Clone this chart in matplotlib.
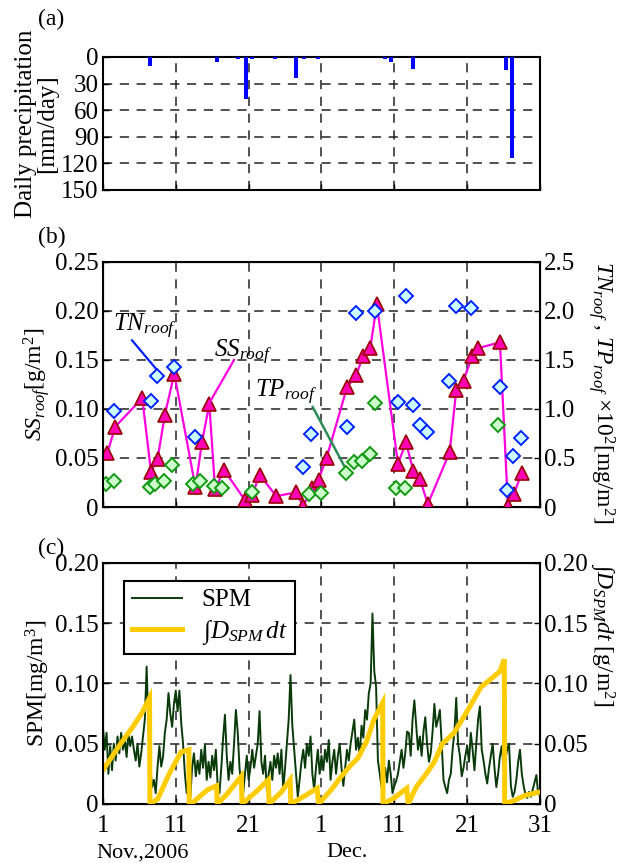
import numpy as np
import matplotlib
matplotlib.use("Agg")
import matplotlib.pyplot as plt

plt.rcParams['font.family'] = ['Liberation Serif', 'DejaVu Serif']
plt.rcParams['mathtext.fontset'] = 'custom'
plt.rcParams['mathtext.rm'] = 'Liberation Serif'
plt.rcParams['mathtext.it'] = 'Liberation Serif:italic'
plt.rcParams['mathtext.bf'] = 'Liberation Serif:bold'

# x axis = days since 1 Nov 2006
tick_days = [0, 10, 20, 30, 40, 50, 60]
tick_labels = ['1', '11', '21', '1', '11', '21', '31']

# (a) daily precipitation
prec_day = [6.5, 15.7, 18.5, 19.7, 20.5, 23.6, 26.5, 27.6, 29.5, 38.7, 39.6, 42.6, 55.3, 56.2]
prec_mm = [10, 5.6, 2, 47, 2, 2, 23.5, 2, 2, 2, 5.6, 14, 15, 114]

# (b) roof deposits
ss_day = [0.6, 1.7, 5.4, 6.6, 7.5, 8.5, 9.8, 12.7, 13.6, 14.6, 15.4, 16.6, 19.5, 20.5,
          21.5, 23.8, 26.5, 27.5, 28.7, 29.6, 30.7, 33.5, 34.8, 35.7, 36.7, 37.6,
          40.5, 41.6, 42.6, 43.5, 44.6, 47.6, 48.5, 49.5, 50.7, 51.5, 54.5, 55.6, 56.4, 57.5]
ss_val = [0.055, 0.082, 0.111, 0.036, 0.049, 0.094, 0.136, 0.020, 0.066, 0.105, 0.018, 0.038,
          0.007, 0.012, 0.033, 0.011, 0.015, 0.001, 0.019, 0.028, 0.050, 0.122, 0.135, 0.154,
          0.162, 0.207, 0.044, 0.066, 0.037, 0.029, 0.003, 0.056, 0.119, 0.129, 0.154, 0.162,
          0.168, 0.001, 0.013, 0.035]

tn_day = [1.5, 6.6, 7.4, 9.7, 12.7, 27.5, 28.6, 33.5, 34.7, 37.4, 40.5, 41.6, 42.6, 43.5,
          44.5, 47.5, 48.4, 50.5, 54.5, 55.5, 56.3, 57.4]
tn_val = [0.98, 1.08, 1.34, 1.43, 0.71, 0.41, 0.74, 0.82, 1.98, 2.00, 1.07, 2.15, 1.04, 0.84,
          0.77, 1.29, 2.05, 2.03, 1.22, 0.17, 0.52, 0.70]

tp_day = [0.4, 1.5, 6.5, 7.2, 8.4, 9.5, 12.4, 13.3, 15.3, 16.3, 20.5, 28.3, 29.9, 33.4,
          34.5, 35.5, 36.6, 37.3, 40.2, 41.4, 54.2]
tp_val = [0.23, 0.27, 0.20, 0.23, 0.27, 0.43, 0.23, 0.27, 0.21, 0.19, 0.15, 0.13, 0.14, 0.35,
          0.46, 0.47, 0.54, 1.06, 0.19, 0.19, 0.84]

# (c) SPM, every 6 hours from 1 Nov
spm_step = 0.25
spm = [0.064, 0.045, 0.059, 0.025, 0.048, 0.028, 0.050, 0.036, 0.056, 0.042, 0.059, 0.045,
       0.053, 0.039, 0.059, 0.048, 0.056, 0.045, 0.036, 0.050, 0.031, 0.042, 0.056, 0.070,
       0.114, 0.064, 0.031, 0.014, 0.020, 0.009, 0.031, 0.048, 0.031, 0.039, 0.059, 0.070,
       0.092, 0.075, 0.064, 0.083, 0.094, 0.077, 0.094, 0.067, 0.050, 0.025, 0.009, 0.023,
       0.006, 0.031, 0.042, 0.023, 0.036,
       0.025, 0.045, 0.030, 0.049, 0.020, 0.035, 0.022, 0.040, 0.028, 0.045, 0.015, 0.009,
       0.030, 0.055, 0.074, 0.040, 0.020, 0.035, 0.025, 0.050, 0.078, 0.060, 0.030, 0.015,
       0.009, 0.025, 0.040, 0.020, 0.030, 0.045, 0.030, 0.040, 0.050, 0.077, 0.035, 0.025,
       0.040, 0.012, 0.025, 0.035, 0.020, 0.040, 0.030, 0.042, 0.025, 0.045, 0.012, 0.030,
       0.050, 0.070, 0.107, 0.065, 0.045, 0.025, 0.006, 0.020, 0.035, 0.045, 0.030, 0.050,
       0.040, 0.056, 0.025, 0.012, 0.030, 0.045, 0.025, 0.040,
       0.028, 0.045, 0.035, 0.053, 0.020, 0.035, 0.045, 0.025, 0.040, 0.050, 0.030, 0.015,
       0.030, 0.045, 0.036, 0.050, 0.060, 0.070, 0.045, 0.055, 0.040, 0.065, 0.055, 0.078,
       0.070, 0.092, 0.100, 0.158, 0.110, 0.097, 0.036, 0.025, 0.014, 0.020, 0.030, 0.018,
       0.036, 0.025, 0.009, 0.015, 0.019, 0.025, 0.035, 0.045, 0.030, 0.042, 0.060, 0.059,
       0.040, 0.070, 0.086, 0.065, 0.045, 0.056, 0.040, 0.060, 0.072, 0.050, 0.035, 0.042,
       0.060, 0.083, 0.064, 0.070, 0.078, 0.050, 0.020, 0.014, 0.009, 0.020, 0.025, 0.045,
       0.060, 0.088, 0.050, 0.040, 0.023, 0.030, 0.040, 0.048, 0.035, 0.059, 0.045, 0.028,
       0.050, 0.070, 0.081, 0.045, 0.036, 0.025, 0.017, 0.030, 0.040, 0.050, 0.030, 0.014,
       0.025, 0.040, 0.048, 0.030, 0.038, 0.045, 0.050, 0.015, 0.006, 0.010, 0.020, 0.035,
       0.045, 0.025, 0.015, 0.008, 0.005, 0.010, 0.006, 0.012, 0.018, 0.024, 0.008, 0.010]
spm_day = np.arange(len(spm)) * spm_step

# cumulative dry deposition, resets on rain
dep_day = [0, 2.2, 4.1, 5.4, 6.4, 6.45, 7.5, 9.1, 10.7, 11.8, 11.85, 12.5, 14.4, 15.6, 15.7,
           17.0, 19.0, 19.1, 21.0, 22.7, 22.8, 24.5, 25.7, 25.8, 27.5, 29.4, 29.6, 30.2,
           31.5, 32.6, 34.0, 35.0, 36.2, 37.2, 38.4, 38.45, 40.0, 41.7, 41.9, 43.0, 44.5,
           45.5, 46.6, 48.2, 50.1, 51.9, 53.3, 54.5, 55.1, 55.15, 56.5, 57.9, 59.3, 60.0]
dep_val = [0.028, 0.048, 0.064, 0.076, 0.088, 0.0, 0.004, 0.025, 0.043, 0.045, 0.0, 0.002,
           0.012, 0.015, 0.0, 0.008, 0.023, 0.0, 0.010, 0.020, 0.0, 0.010, 0.020, 0.0, 0.006,
           0.013, 0.0, 0.004, 0.013, 0.022, 0.032, 0.038, 0.052, 0.070, 0.084, 0.0, 0.005,
           0.013, 0.0, 0.014, 0.026, 0.035, 0.050, 0.059, 0.078, 0.097, 0.104, 0.110, 0.120,
           0.0, 0.003, 0.007, 0.009, 0.010]

fs = 18
grid_kw = dict(color='#222222', linestyle=(0, (6, 5)), linewidth=1.1)

fig = plt.figure(figsize=(6.2, 8.63), dpi=100)
left, width = 0.166, 0.705
ax_a = fig.add_axes([left, 0.780, width, 0.154])
ax_b = fig.add_axes([left, 0.4125, width, 0.284])
ax_c = fig.add_axes([left, 0.0684, width, 0.2793])


def style(ax):
    ax.set_xlim(0, 60)
    ax.set_xticks(tick_days)
    ax.tick_params(direction='in', length=4, width=1, labelsize=fs, pad=3)
    ax.tick_params(axis='x', pad=8)
    for s in ax.spines.values():
        s.set_linewidth(1.5)


# ---- (a)
ax_a.bar(prec_day, prec_mm, width=0.55, color='#0000ff', zorder=3)
ax_a.set_ylim(150, 0)
ax_a.set_yticks([0, 30, 60, 90, 120, 150])
style(ax_a)
ax_a.set_xticklabels([])
ax_a.grid(True, **grid_kw)
ax_a.set_axisbelow(True)
ax_a.set_ylabel('Daily precipitation\n[mm/day]', fontsize=18, linespacing=0.95, labelpad=2)
fig.text(0.062, 0.978, '(a)', fontsize=17, ha='left', va='center')

# ---- (b)
ax_b.plot(ss_day, ss_val, color='#ff00e0', linewidth=1.6, zorder=3)
ax_b.plot(ss_day, ss_val, linestyle='none', marker='^', markersize=10,
          markerfacecolor='#ff00b4', markeredgecolor='#990000', markeredgewidth=1.2, zorder=4)
ax_b.set_ylim(0, 0.25)
ax_b.set_yticks([0, 0.05, 0.10, 0.15, 0.20, 0.25])
ax_b.set_yticklabels(['0', '0.05', '0.10', '0.15', '0.20', '0.25'])
style(ax_b)
ax_b.set_xticklabels([])
ax_b.grid(True, **grid_kw)
ax_b.set_ylabel(r'$SS_{roof}$[g/m$^2$]', fontsize=17, labelpad=2)
fig.text(0.062, 0.725, '(b)', fontsize=17, ha='left', va='center')

ax_b2 = ax_b.twinx()
ax_b2.plot(tp_day, tp_val, linestyle='none', marker='D', markersize=7,
           markerfacecolor='#ccffcc', markeredgecolor='#119911', markeredgewidth=1.4)
ax_b2.plot(tn_day, tn_val, linestyle='none', marker='D', markersize=7,
           markerfacecolor='#ccffff', markeredgecolor='#0022ff', markeredgewidth=1.4)
ax_b2.set_ylim(0, 2.5)
ax_b2.set_yticks([0, 0.5, 1.0, 1.5, 2.0, 2.5])
ax_b2.set_yticklabels(['0', '0.5', '1.0', '1.5', '2.0', '2.5'])
ax_b2.tick_params(direction='in', length=4, width=1, labelsize=fs, pad=3)
ax_b2.set_ylabel(r'$TN_{roof}$ , $TP_{roof}$ ×10$^2$[mg/m$^2$]', fontsize=17,
                 rotation=270, labelpad=17)
ax_b2.yaxis.set_label_coords(1.175, 0.47)

ax_b.plot([4.0, 7.4], [0.170, 0.140], color='#0022ff', linewidth=1.6, zorder=5)
ax_b.plot([18.0, 14.6], [0.150, 0.106], color='#ff00e0', linewidth=1.6, zorder=5)
ax_b.plot([28.8, 33.4], [0.102, 0.038], color='#2e8b57', linewidth=1.8, zorder=5)
ax_b.text(5.7, 0.184, r'$TN_{roof}$', fontsize=18, ha='center', va='center', zorder=6)
ax_b.text(19.2, 0.158, r'$SS_{roof}$', fontsize=18, ha='center', va='center', zorder=6)
ax_b.text(25.1, 0.117, r'$TP_{roof}$', fontsize=18, ha='center', va='center', zorder=6)

# ---- (c)
l1, = ax_c.plot(spm_day, spm, color='#0a3a0a', linewidth=1.4, label='SPM', zorder=3)
ax_c.set_ylim(0, 0.20)
ax_c.set_yticks([0, 0.05, 0.10, 0.15, 0.20])
ax_c.set_yticklabels(['0', '0.05', '0.10', '0.15', '0.20'])
style(ax_c)
ax_c.set_xticklabels(tick_labels)
ax_c.grid(True, **grid_kw)
ax_c.set_ylabel(r'SPM[mg/m$^3$]', fontsize=17, labelpad=2)
fig.text(0.062, 0.365, '(c)', fontsize=17, ha='left', va='center')

ax_c2 = ax_c.twinx()
l2, = ax_c2.plot(dep_day, dep_val, color='#ffcc00', linewidth=3.6,
                 label=r'$\int D_{SPM}\,dt$', solid_joinstyle='miter')
ax_c2.set_ylim(0, 0.20)
ax_c2.set_yticks([0, 0.05, 0.10, 0.15, 0.20])
ax_c2.set_yticklabels(['0', '0.05', '0.10', '0.15', '0.20'])
ax_c2.tick_params(direction='in', length=4, width=1, labelsize=fs, pad=3)
ax_c2.set_ylabel(r'$\int D_{SPM}dt$ [g/m$^2$]', fontsize=17, rotation=270)
ax_c2.yaxis.set_label_coords(1.175, 0.70)

leg = ax_c2.legend([l1, l2], ['SPM', r'$\int D_{SPM}\,dt$'], loc='upper left',
                   bbox_to_anchor=(0.02, 0.975), fontsize=18, fancybox=False,
                   framealpha=1, edgecolor='black', handlelength=2.0, borderpad=0.3,
                   labelspacing=0.25, handletextpad=0.8)
leg.get_frame().set_linewidth(1.5)

fig.text(0.155, 0.001, 'Nov.,2006', fontsize=16, ha='left', va='bottom')
fig.text(0.527, 0.001, 'Dec.', fontsize=16, ha='left', va='bottom')

fig.savefig('out.png', dpi=100)
